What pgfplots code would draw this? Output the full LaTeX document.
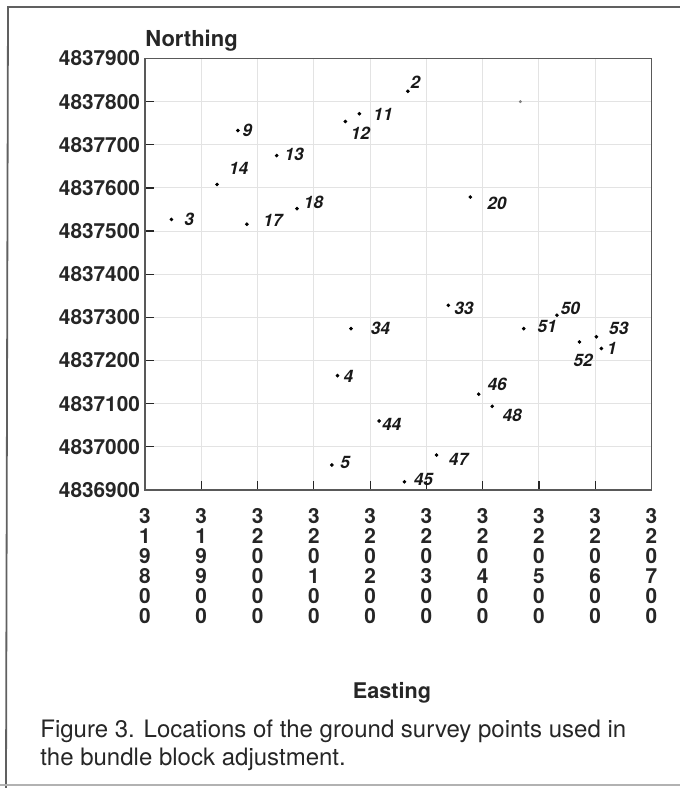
\documentclass[border=0pt]{standalone}
\usepackage{fontspec}
\setmainfont{TeX Gyre Heros}
\usepackage{pgfplots}
\usepackage{pgfplotstable}
\pgfplotsset{compat=1.18}
\pgfplotstableread{
x y label dx dy
320611 4837228 1 5.3 0
320267 4837824 2 3.8 4.5
319847 4837527 3 8.8 0
320142 4837165 4 5.5 -0.5
320132 4836958 5 6.7 1.2
319965 4837733 9 4.8 0
320181 4837772 11 11.8 -0.3
320156 4837754 12 7.5 -5.8
320034 4837675 13 8.7 0.5
319928 4837608 14 10.8 8.2
319981 4837516 17 13 2
320070 4837552 18 8.3 3
320378 4837579 20 13.3 -3.2
320339 4837328 33 7.8 -1.3
320166 4837274 34 14.7 0
320216 4837060 44 6.3 -1.7
320261 4836919 45 9.5 1.3
320393 4837122 46 9.2 5
320318 4836981 47 11 -2
320417 4837094 48 10 -4.5
320532 4837305 50 6.7 3.5
320473 4837274 51 11.7 1.2
320572 4837243 52 1.8 -9.2
320602 4837255 53 11.2 4.3
}\pts
\pgfplotstableread{
x y
320467 4837800
}\stray
\begin{document}
\begin{tikzpicture}[x=1pt,y=1pt]
\path[use as bounding box] (0,0) rectangle (340,394);
\draw[gray!75!black, line width=0.9pt] (340,390.5) -- (4,390.5) -- (3,0);
\draw[gray!60, line width=0.8pt] (0,1.5) -- (340,1.5);
\begin{axis}[
  at={(72.5pt,149pt)}, anchor=south west,
  scale only axis, width=253.25pt, height=215.75pt,
  xmin=319800, xmax=320700, ymin=4836900, ymax=4837900,
  scaled x ticks=false, scaled y ticks=false,
  xtick={319800,319900,320000,320100,320200,320300,320400,320500,320600,320700},
  xticklabels={{3\\1\\9\\8\\0\\0},{3\\1\\9\\9\\0\\0},{3\\2\\0\\0\\0\\0},{3\\2\\0\\1\\0\\0},{3\\2\\0\\2\\0\\0},{3\\2\\0\\3\\0\\0},{3\\2\\0\\4\\0\\0},{3\\2\\0\\5\\0\\0},{3\\2\\0\\6\\0\\0},{3\\2\\0\\7\\0\\0}},
  ytick={4836900,4837000,4837100,4837200,4837300,4837400,4837500,4837600,4837700,4837800,4837900},
  yticklabels={4836900,4837000,4837100,4837200,4837300,4837400,4837500,4837600,4837700,4837800,4837900},
  xticklabel style={align=center, font=\fontsize{10.4}{10}\selectfont\bfseries, yshift=-5.5pt, text=black!85},
  yticklabel style={font=\fontsize{10.4}{12}\selectfont\bfseries, xshift=1pt, text=black!85},
  grid=major, grid style={gray!22, line width=0.5pt},
  axis line style={gray!70!black, line width=0.8pt},
  tick align=inside, tick pos=left, major tick length=4.5pt,
  tick style={black!85, line width=0.6pt},
  clip=false,
]
\addplot[only marks, mark=*, mark size=0.7pt, black,
  point meta=explicit symbolic,
  visualization depends on={\thisrow{dx} \as \dx},
  visualization depends on={\thisrow{dy} \as \dy},
  nodes near coords,
  nodes near coords style={anchor=center, xshift=\dx, yshift=\dy,
    font=\fontsize{8.6}{10}\selectfont\bfseries\itshape, inner sep=0pt, text=black!90}]
  table[x=x, y=y, meta=label] {\pts};
\addplot[only marks, mark=*, mark size=0.5pt, gray] table[x=x,y=y] {\stray};
\end{axis}
\node[anchor=base west, font=\fontsize{11}{13}\selectfont\bfseries, inner sep=0pt, text=black!85] at (72.5,370.5) {Northing};
\node[anchor=base, font=\fontsize{10.8}{13}\selectfont\bfseries, inner sep=0pt, text=black!85] at (196,44.5) {Easting};
\node[anchor=base west, font=\fontsize{12}{14}\selectfont, inner sep=0pt, text=black!85] at (20,25) {Figure 3. Locations of the ground survey points used in};
\node[anchor=base west, font=\fontsize{12}{14}\selectfont, inner sep=0pt, text=black!85] at (20,11) {the bundle block adjustment.};
\end{tikzpicture}
\end{document}
